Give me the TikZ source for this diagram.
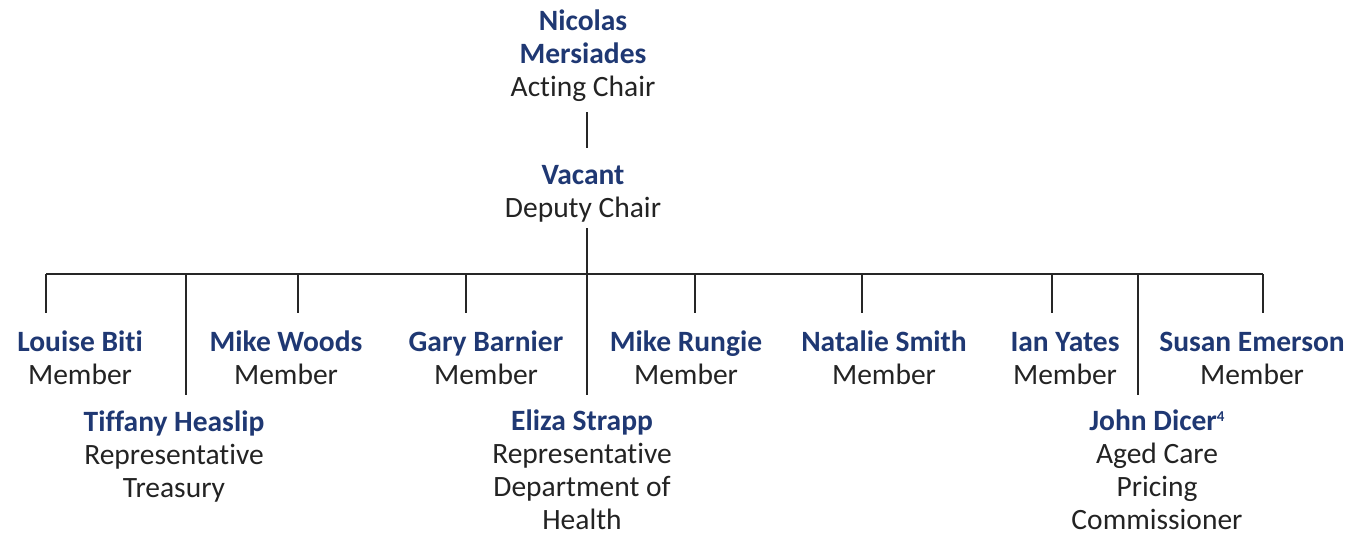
\documentclass[tikz,border=0pt]{standalone}
\usepackage{fontspec}
\setmainfont{Carlito}[Ligatures=NoCommon]
\usepackage{tikz}
\usetikzlibrary{positioning}

\definecolor{namecol}{RGB}{31,56,115}
\definecolor{rolecol}{RGB}{35,35,35}
\newcommand{\pname}[1]{\textcolor{namecol}{\bfseries #1}}
\newcommand{\fnmark}[1]{\raisebox{9pt}{\fontsize{15}{15}\selectfont #1}}

\begin{document}
\begin{tikzpicture}[x=1pt, y=-1pt,
    every node/.style={font=\fontsize{29.5}{33}\selectfont, text=rolecol, align=center, inner sep=0pt, anchor=base},
    link/.style={draw=black!85, line width=1.6pt}]
    \useasboundingbox (0,0) rectangle (1349,533);

    % Chairs (placed by the baseline of their last line)
    \node (chair) at (583,96) {\pname{Nicolas}\\\pname{Mersiades}\\Acting Chair};
    \node (deputy) at (583,217) {\pname{Vacant}\\Deputy Chair};

    % Members
    \node (biti)    at (80,384)   {\pname{Louise Biti}\\Member};
    \node (woods)   at (286,384)  {\pname{Mike Woods}\\Member};
    \node (barnier) at (486,384)  {\pname{Gary Barnier}\\Member};
    \node (rungie)  at (686,384)  {\pname{Mike Rungie}\\Member};
    \node (smith)   at (884,384)  {\pname{Natalie Smith}\\Member};
    \node (yates)   at (1065,384) {\pname{Ian Yates}\\Member};
    \node (emerson) at (1252,384) {\pname{Susan Emerson}\\Member};

    % Representatives
    \node (heaslip) at (174,497)  {\pname{Tiffany Heaslip}\\Representative\\Treasury};
    \node (strapp)  at (582,529)  {\pname{Eliza Strapp}\\Representative\\Department of\\Health};
    \node (dicer)   at (1157,529) {\pname{John Dicer\fnmark{4}}\\Aged Care\\Pricing\\Commissioner};

    % Wire ends
    \coordinate (chairlow)  at (587,112);
    \coordinate (deputytop) at (587,148);
    \coordinate (deputylow) at (587,228);
    \coordinate (busL) at (46,274);
    \coordinate (busR) at (1263,274);

    % Tree
    \draw[link] (chairlow) -- (deputytop);
    \draw[link] (deputylow) -- (deputylow |- busL);
    \draw[link] (busL) -- (busR);
    \foreach \x/\y [count=\i] in {46/313, 186/395, 298/313, 466/313, 587/395, 695/313, 862/313, 1052/313, 1138/395, 1263/313} {
        \coordinate (drop\i) at (\x,\y);
        \draw[link] (drop\i |- busL) -- (drop\i);
    }
\end{tikzpicture}
\end{document}
